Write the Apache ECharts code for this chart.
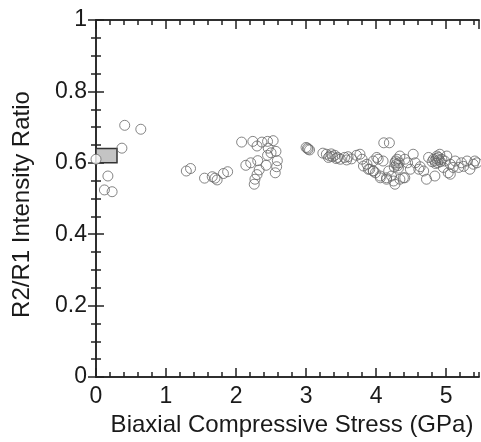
<!DOCTYPE html>
<html>
<head>
<meta charset="utf-8">
<script src="https://cdn.jsdelivr.net/npm/echarts@6/dist/echarts.min.js"></script>
<style>
  html, body { margin: 0; padding: 0; background: #fff; }
  #chart { width: 481px; height: 442px; }
</style>
</head>
<body>
<div id="chart"></div>
<script>
var stressGPa = [
  0.41, 0.64, 0.37, 0.17, 0.12, 0.23,
  1.29, 1.35, 1.55, 1.66, 1.70, 1.73, 1.82, 1.88,
  2.08, 2.24, 2.30, 2.37, 2.45, 2.53,
  2.46, 2.50, 2.57, 2.45,
  2.14, 2.21, 2.31, 2.43, 2.59, 2.58, 2.56,
  2.33, 2.30, 2.27, 2.26,
  3.00, 3.02, 3.03, 3.05,
  3.24, 3.29, 3.34, 3.41, 3.45, 3.49, 3.60, 3.65, 3.72, 3.77, 3.80, 3.87, 3.91, 3.99, 3.96, 4.03,
  3.36, 3.38, 3.43, 3.32, 3.55, 3.58,
  3.82, 3.89, 3.96, 4.06, 4.15,
  4.11, 4.19,
  4.01, 4.10, 3.96, 4.06, 4.15, 4.18, 4.22, 4.25, 4.27, 4.34, 4.39,
  4.27, 4.29, 4.31, 4.28, 4.33, 4.30, 4.26, 4.32,
  4.34, 4.41, 4.49, 4.53, 4.61, 4.63, 4.68, 4.72,
  4.41, 4.45, 4.56,
  4.75, 4.82, 4.84, 4.86, 4.88, 4.90, 4.92, 4.94, 4.85, 4.80, 4.89,
  4.87, 4.91, 5.01, 5.03, 5.06, 5.13, 5.18, 5.22, 5.30, 5.34, 5.39, 5.44, 4.96, 5.10,
  4.84, 5.06, 4.98, 5.25, 5.41
];
var intensityRatio = [
  0.705, 0.694, 0.641, 0.563, 0.524, 0.519,
  0.577, 0.584, 0.557, 0.561, 0.557, 0.552, 0.570, 0.575,
  0.658, 0.660, 0.647, 0.658, 0.660, 0.662,
  0.641, 0.628, 0.632, 0.621,
  0.593, 0.600, 0.606, 0.593, 0.606, 0.589, 0.572,
  0.580, 0.567, 0.554, 0.540,
  0.643, 0.641, 0.638, 0.636,
  0.627, 0.624, 0.619, 0.621, 0.615, 0.610, 0.617, 0.611, 0.621, 0.624, 0.610, 0.596, 0.582, 0.572, 0.605, 0.610,
  0.625, 0.617, 0.612, 0.615, 0.615, 0.608,
  0.591, 0.582, 0.577, 0.558, 0.554,
  0.656, 0.656,
  0.615, 0.605, 0.577, 0.563, 0.558, 0.577, 0.563, 0.549, 0.540, 0.554, 0.558,
  0.600, 0.596, 0.592, 0.605, 0.600, 0.610, 0.588, 0.585,
  0.619, 0.610, 0.582, 0.624, 0.582, 0.589, 0.577, 0.554,
  0.558, 0.600, 0.600,
  0.615, 0.610, 0.605, 0.612, 0.600, 0.608, 0.603, 0.610, 0.598, 0.603, 0.615,
  0.619, 0.624, 0.619, 0.572, 0.596, 0.605, 0.587, 0.600, 0.605, 0.582, 0.596, 0.600, 0.587, 0.587,
  0.563, 0.568, 0.605, 0.590, 0.605
];
// ambient point sitting on the y axis
var ambientPoint = [0, 0.61];
// shaded box near zero stress
var boxX = [0, 0.3];
var boxY = [0.60, 0.64];

var points = stressGPa.map(function (x, i) { return [x, intensityRatio[i]]; });

var FONT = 'Liberation Sans, Arial, sans-serif';
var INK = '#222';
var TXT = '#1a1a1a';
var X_MAX = 5.47;

// negative tick length -> ticks point into the plot
function xAxisPart(pos, interval, len, withLabel) {
  return {
    type: 'value', position: pos, min: 0, max: X_MAX, interval: interval,
    axisLine: { show: true, lineStyle: { color: INK, width: 1.5 } },
    axisTick: { show: true, inside: false, length: -len, lineStyle: { color: INK, width: 1.5 } },
    axisLabel: withLabel ? {
      show: true, margin: 8, fontFamily: FONT, fontSize: 23, color: TXT,
      showMaxLabel: false,
      formatter: function (v) { return Number.isInteger(v) ? String(v) : ''; }
    } : { show: false },
    splitLine: { show: false }
  };
}

var xAxes = [
  xAxisPart('bottom', 1, 9, true),
  xAxisPart('bottom', 0.2, 5, false),
  xAxisPart('top', 1, 9, false),
  xAxisPart('top', 0.2, 5, false)
];
xAxes[0].name = 'Biaxial Compressive Stress (GPa)';
xAxes[0].nameLocation = 'middle';
xAxes[0].nameGap = 36;
xAxes[0].nameTextStyle = { fontFamily: FONT, fontSize: 24, color: TXT, padding: [0, 0, 0, 9] };

function yAxisPart(pos, withLabel) {
  return {
    type: 'value', position: pos, min: 0, max: 1, interval: 0.2,
    axisLine: { show: true, lineStyle: { color: INK, width: 1.5 } },
    axisTick: { show: true, inside: false, length: -8, lineStyle: { color: INK, width: 1.5 } },
    minorTick: { show: true, splitNumber: 4, length: -5, lineStyle: { color: INK, width: 1.5 } },
    axisLabel: withLabel ? { show: true, margin: 9, fontFamily: FONT, fontSize: 23, color: TXT } : { show: false },
    splitLine: { show: false },
    minorSplitLine: { show: false }
  };
}

var yAxes = [yAxisPart('left', true), yAxisPart('right', false)];
yAxes[0].name = 'R2/R1 Intensity Ratio';
yAxes[0].nameLocation = 'middle';
yAxes[0].nameGap = 62;
yAxes[0].nameTextStyle = { fontFamily: FONT, fontSize: 24, color: TXT, padding: [0, 12, 0, 0] };

var chart = echarts.init(document.getElementById('chart'));
chart.setOption({
  animation: false,
  backgroundColor: '#fff',
  grid: { left: 96, right: 2, top: 20, bottom: 64 },
  xAxis: xAxes,
  yAxis: yAxes,
  series: [
    {
      type: 'scatter',
      xAxisIndex: 0, yAxisIndex: 0,
      data: points,
      symbol: 'circle',
      symbolSize: 10,
      itemStyle: { color: 'rgba(255,255,255,0)', borderColor: '#666', borderWidth: 1 },
      markArea: {
        silent: true,
        itemStyle: { color: '#c4c4c4', borderColor: '#333', borderWidth: 1.5 },
        data: [[{ coord: [boxX[0], boxY[0]] }, { coord: [boxX[1], boxY[1]] }]]
      }
    },
    {
      type: 'scatter',
      xAxisIndex: 0, yAxisIndex: 0,
      data: [ambientPoint],
      clip: false,
      symbol: 'circle',
      symbolSize: 10,
      itemStyle: { color: '#fff', borderColor: '#666', borderWidth: 1 }
    }
  ]
});
</script>
</body>
</html>
